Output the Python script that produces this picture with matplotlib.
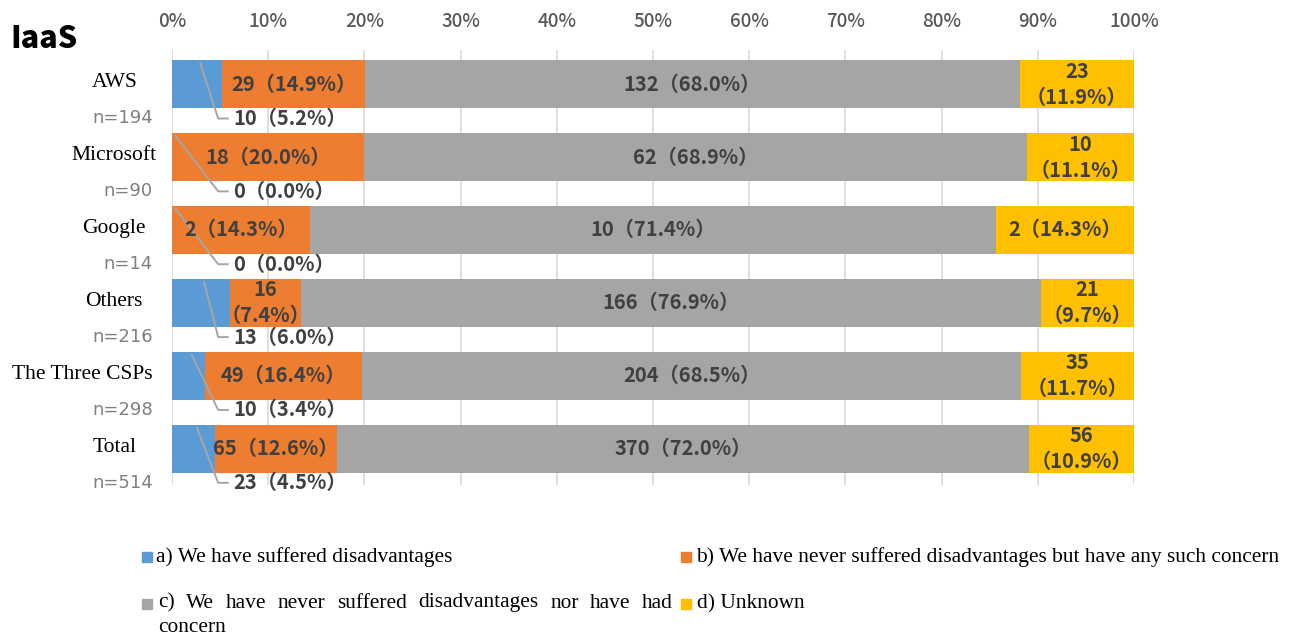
import matplotlib
matplotlib.use("Agg")
import matplotlib.pyplot as plt
from matplotlib.patches import Rectangle

categories = ["AWS", "Microsoft", "Google", "Others", "The Three CSPs", "Total"]
n_values = [194, 90, 14, 216, 298, 514]
a_cnt = [10, 0, 0, 13, 10, 23]
a_pct = [5.2, 0.0, 0.0, 6.0, 3.4, 4.5]
b_cnt = [29, 18, 2, 16, 49, 65]
b_pct = [14.9, 20.0, 14.3, 7.4, 16.4, 12.6]
c_cnt = [132, 62, 10, 166, 204, 370]
c_pct = [68.0, 68.9, 71.4, 76.9, 68.5, 72.0]
d_cnt = [23, 10, 2, 21, 35, 56]
d_pct = [11.9, 11.1, 14.3, 9.7, 11.7, 10.9]
xticks = [0, 10, 20, 30, 40, 50, 60, 70, 80, 90, 100]
legend_labels = [
    "a) We have suffered disadvantages",
    "b) We have never suffered disadvantages but have any such concern",
    "c) We have never suffered disadvantages nor have had concern",
    "d) Unknown",
]
colors = ["#5B9BD5", "#ED7D31", "#A5A5A5", "#FFC000"]

W, H = 1293, 640
fig = plt.figure(figsize=(W / 100, H / 100), dpi=100)
ax = fig.add_axes([172 / W, 1 - 485 / H, (1134 - 172) / W, (485 - 50) / H])

LBL = dict(family=["Noto Sans CJK JP", "DejaVu Sans"], fontweight="bold",
           color="#404040", fontsize=14.5)
SERIF = "Liberation Serif"

y = list(range(len(categories)))
bh = 0.66
left = [0.0] * len(y)
series = [(a_cnt, a_pct), (b_cnt, b_pct), (c_cnt, c_pct), (d_cnt, d_pct)]
for si, (cnt, pct) in enumerate(series):
    ax.barh(y, pct, left=left, height=bh, color=colors[si], zorder=2)
    for i in range(len(y)):
        if si > 0:
            cx = left[i] + pct[i] / 2
            if pct[i] < 12:
                txt = f"{cnt[i]}\n（{pct[i]:.1f}%）"
            else:
                txt = f"{cnt[i]}（{pct[i]:.1f}%）"
            ax.text(cx, y[i], txt, ha="center", va="center", zorder=4,
                    linespacing=1.3, **LBL)
    left = [l + p for l, p in zip(left, pct)]

# leader labels for series a
for i in range(len(y)):
    x0 = a_pct[i] / 2 + 0.3
    y0 = y[i] - bh / 2 + 0.03
    y1 = y[i] + 0.47
    ax.plot([x0, 4.8, 5.9], [y0, y1, y1], color="#A6A6A6", lw=1.4, zorder=3,
            solid_capstyle="butt")
    ax.text(6.4, y1, f"{a_cnt[i]}（{a_pct[i]:.1f}%）", ha="left", va="center",
            zorder=4, **LBL)

ax.set_xlim(0, 100)
ax.set_ylim(5.5, -0.47)
ax.set_xticks(xticks)
ax.set_xticklabels([f"{t}%" for t in xticks])
ax.xaxis.tick_top()
ax.tick_params(axis="x", length=0, pad=14, labelsize=13.5, labelcolor="#595959")
for lab in ax.get_xticklabels():
    lab.set_family(["Noto Sans CJK JP", "DejaVu Sans"])
    lab.set_fontweight("medium")
ax.set_yticks([])
for s in ax.spines.values():
    s.set_visible(False)
ax.grid(axis="x", color="#D9D9D9", lw=1.2, zorder=0)
ax.set_axisbelow(True)

# category labels (left)
for i, (c, n) in enumerate(zip(categories, n_values)):
    short = len(c) < 12
    ax.text(-6.0 if short else -2.0, y[i] - 0.02, c,
            ha="center" if short else "right",
            va="center", family=SERIF, fontsize=15.5, color="black",
            clip_on=False)
    ax.text(-2.0, y[i] + 0.47, f"n={n}", ha="right", va="center",
            family="DejaVu Sans", fontsize=13, color="#7F7F7F", clip_on=False)

fig.text(10 / W, 1 - 39 / H, "IaaS", ha="left", va="center", fontsize=22,
         fontweight="heavy", family=["Noto Sans CJK JP", "DejaVu Sans"])

# legend
def square(xp, yp, col):
    fig.patches.append(Rectangle((xp / W, 1 - (yp + 5) / H), 10 / W, 10 / H,
                                 transform=fig.transFigure, color=col))

LFS = 15.4
square(142, 557, colors[0])
fig.text(156 / W, 1 - 557 / H, legend_labels[0], family=SERIF, fontsize=LFS,
         va="center", ha="left")
square(681, 557, colors[1])
fig.text(696 / W, 1 - 557 / H, legend_labels[1], family=SERIF, fontsize=LFS,
         va="center", ha="left")
square(142, 604, colors[2])
square(681, 604, colors[3])
fig.text(697 / W, 1 - 604 / H, legend_labels[3], family=SERIF, fontsize=LFS,
         va="center", ha="left")

# justified first line of label c
words = legend_labels[2].split()
line1, line2 = words[:-1], words[-1:]
fig.canvas.draw()
r = fig.canvas.get_renderer()
objs = [fig.text(0, 1 - 607.5 / H, w, family=SERIF, fontsize=LFS, va="baseline",
                 ha="left") for w in line1]
widths = [o.get_window_extent(r).width for o in objs]
x_start, x_end = 158, 673
gap = (x_end - x_start - sum(widths)) / (len(widths) - 1)
xp = x_start
for o, w in zip(objs, widths):
    o.set_x(xp / W)
    xp += w + gap
fig.text(x_start / W, 1 - 628 / H, " ".join(line2), family=SERIF, fontsize=LFS,
         va="center", ha="left")

fig.savefig("out.png", dpi=100)
